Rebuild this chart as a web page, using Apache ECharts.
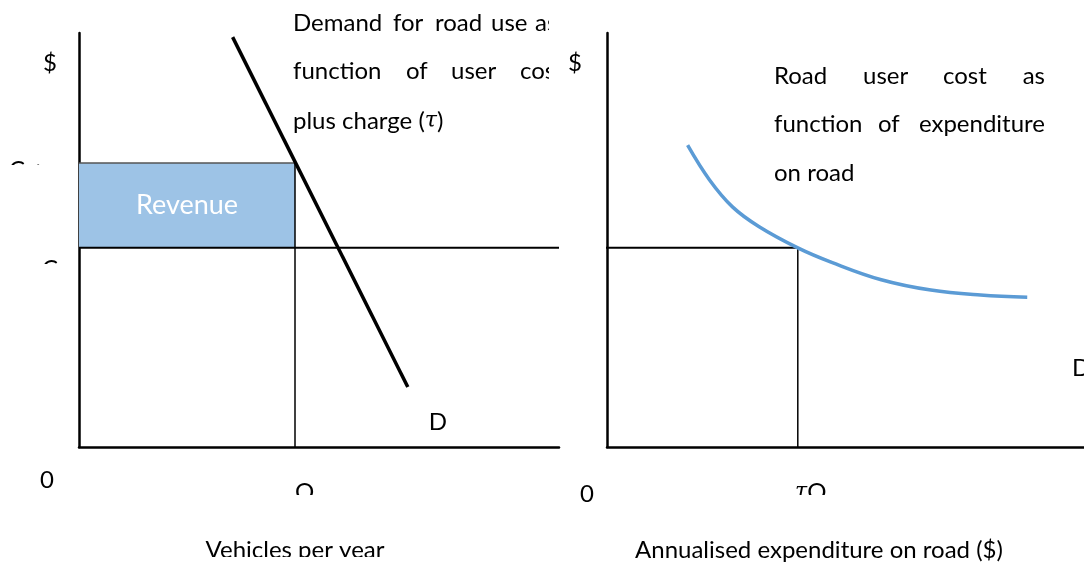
<!DOCTYPE html>
<html>
<head>
<meta charset="utf-8">
<script src="https://cdn.jsdelivr.net/npm/echarts/dist/echarts.min.js"></script>
<style>
  html, body { margin: 0; padding: 0; background: #fff; }
  #main { width: 1084px; height: 567px; }
</style>
</head>
<body>
<div id="main"></div>
<script>
// left panel: demand line and the charge rectangle (axis units 0-100)
var demandX = [32, 68.5];
var demandY = [99, 14.5];
var quantity = 45;      // Q
var priceLevel = 68.6;  // user cost + charge
var costLevel = 48.1;   // user cost

// right panel: road user cost as function of expenditure
var curveX = [16.9, 21.5, 26.3, 31.9, 40.0, 47.1, 57.5, 67.9, 78.3, 88.1];
var curveY = [72.9, 64.5, 58.0, 53.2, 48.1, 44.6, 40.4, 37.9, 36.7, 36.2];
var tauQ = 40;          // expenditure = tau * Q

var FONT = 'Lato, "Open Sans", sans-serif';
var SIZE = 24;

function pairs(xs, ys) {
    return xs.map(function (x, i) { return [x, ys[i]]; });
}

function axis(gridIndex) {
    return {
        type: 'value',
        gridIndex: gridIndex,
        min: 0,
        max: 100,
        axisLine: { show: true, onZero: false, lineStyle: { color: '#000', width: 2.5 } },
        axisTick: { show: false },
        axisLabel: { show: false },
        splitLine: { show: false }
    };
}

function txt(x, y, s, align) {
    return {
        type: 'text', x: x, y: y, z: 20,
        style: {
            text: s, fill: '#000', font: SIZE + 'px ' + FONT,
            textAlign: align || 'left', textVerticalAlign: 'middle',
            rich: { t: { fontStyle: 'italic', fontSize: SIZE - 2, fontFamily: '"DejaVu Serif", serif' } }
        }
    };
}

function cover(x, y, w, h) {
    return { type: 'rect', z: 30, shape: { x: x, y: y, width: w, height: h }, style: { fill: '#fff' } };
}

var chart = echarts.init(document.getElementById('main'));
chart.setOption({
    animation: false,
    backgroundColor: '#fff',
    grid: [
        { left: 79, top: 33, width: 480, height: 414 },
        { left: 607, top: 33, width: 480, height: 414 }
    ],
    xAxis: [axis(0), axis(1)],
    yAxis: [axis(0), axis(1)],
    series: [
        {
            name: 'revenueTop', type: 'line', xAxisIndex: 0, yAxisIndex: 0, z: 3,
            data: [[0, priceLevel], [quantity, priceLevel]],
            symbol: 'none', lineStyle: { color: '#555', width: 1.5 },
            markArea: {
                silent: true,
                itemStyle: { color: '#9DC3E6' },
                label: { show: true, position: 'inside', color: '#fff', fontSize: 27, fontFamily: FONT },
                data: [[{ name: 'Revenue', coord: [0, costLevel] }, { coord: [quantity, priceLevel] }]]
            }
        },
        {
            name: 'qLine', type: 'line', xAxisIndex: 0, yAxisIndex: 0, z: 4,
            data: [[quantity, 0], [quantity, priceLevel]],
            symbol: 'none', lineStyle: { color: '#000', width: 1.5 }
        },
        {
            name: 'costLeft', type: 'line', xAxisIndex: 0, yAxisIndex: 0, z: 4,
            data: [[0, costLevel], [100, costLevel]],
            symbol: 'none', lineStyle: { color: '#000', width: 2 }
        },
        {
            name: 'demand', type: 'line', xAxisIndex: 0, yAxisIndex: 0, z: 5,
            data: pairs(demandX, demandY),
            symbol: 'none', lineStyle: { color: '#000', width: 3.5 }
        },
        {
            name: 'costRight', type: 'line', xAxisIndex: 1, yAxisIndex: 1, z: 4, clip: false,
            data: [[-10, costLevel], [tauQ, costLevel]],
            symbol: 'none', lineStyle: { color: '#000', width: 2 }
        },
        {
            name: 'tauQLine', type: 'line', xAxisIndex: 1, yAxisIndex: 1, z: 4,
            data: [[tauQ, 0], [tauQ, costLevel]],
            symbol: 'none', lineStyle: { color: '#000', width: 1.5 }
        },
        {
            name: 'roadCost', type: 'line', xAxisIndex: 1, yAxisIndex: 1, z: 5,
            data: pairs(curveX, curveY), smooth: 0.4,
            symbol: 'none', lineStyle: { color: '#5B9BD5', width: 3.5 }
        }
    ],
    graphic: [
        // left panel annotation (justified lines, clipped at its box edge)
        txt(293, 23, 'Demand'), txt(393, 23, 'for'), txt(435, 23, 'road'), txt(491, 23, 'use'), txt(535, 23, 'as'),
        txt(293, 71, 'function'), txt(406, 71, 'of'), txt(451, 71, 'user'), txt(520, 71, 'cost'),
        txt(293, 121, 'plus charge ({t|τ})'),
        cover(549, 0, 17, 100),
        txt(50, 63, '$', 'center'),
        txt(575, 63, '$', 'center'),
        txt(47, 480, '0', 'center'),
        txt(587, 494, '0', 'center'),
        txt(438, 422, 'D', 'center'),
        txt(1072, 368, 'D'),
        // clipped level labels on the left
        txt(9, 170, 'C +'),
        cover(0, 165, 74, 40),
        txt(42, 269, 'C'),
        cover(0, 264, 74, 30),
        // quantity labels, cut at the bottom
        txt(295, 492, 'Q'),
        cover(280, 495, 45, 20),
        txt(795, 492, '{t|τ}Q'),
        cover(780, 495, 60, 20),
        // axis titles
        txt(295, 550, 'Vehicles per year', 'center'),
        cover(180, 557, 240, 12),
        txt(819, 550, 'Annualised expenditure on road ($)', 'center'),
        // right panel annotation
        txt(774, 76, 'Road'), txt(863, 76, 'user'), txt(943, 76, 'cost'), txt(1045, 76, 'as', 'right'),
        txt(774, 124, 'function'), txt(878, 124, 'of'), txt(1045, 124, 'expenditure', 'right'),
        txt(774, 173, 'on road')
    ]
});
</script>
</body>
</html>
